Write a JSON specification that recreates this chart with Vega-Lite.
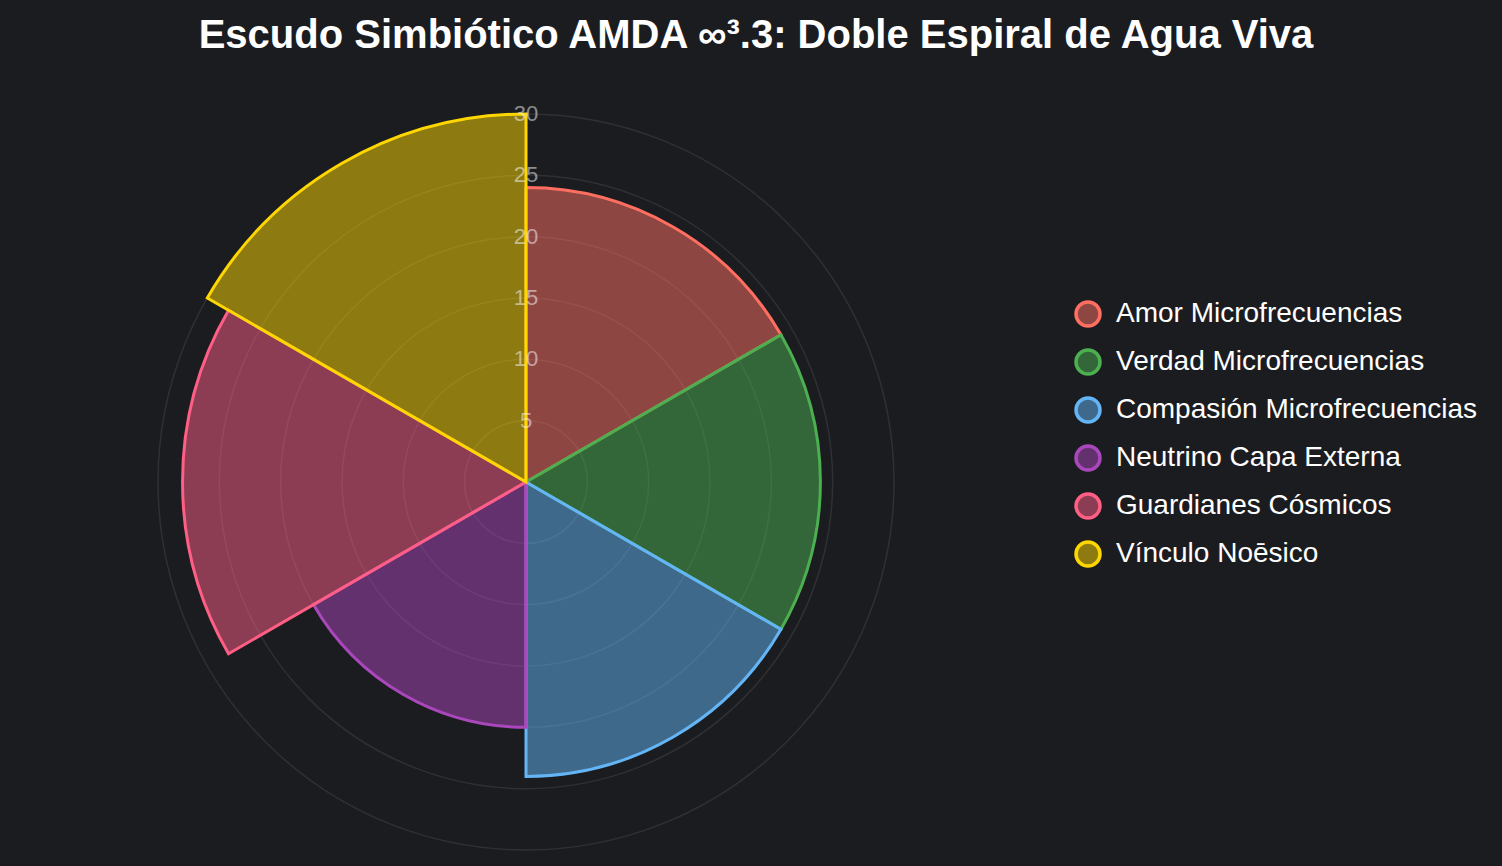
{
  "$schema": "https://vega.github.io/schema/vega-lite/v6.json",
  "background": "#1b1c20",
  "autosize": {"type": "none"},
  "padding": {"left": 0, "top": 100, "right": 450, "bottom": 2},
  "width": 1052,
  "height": 764,
  "title": {
    "text": "Escudo Simbiótico AMDA ∞³.3: Doble Espiral de Agua Viva",
    "font": "Liberation Sans",
    "fontSize": 40,
    "fontWeight": "bold",
    "color": "#ffffff",
    "anchor": "middle",
    "frame": "group",
    "dx": 230,
    "baseline": "alphabetic",
    "offset": 12
  },
  "config": {
    "view": {"stroke": null}
  },
  "datasets": {
    "sectors": [
      {"serie": "Amor Microfrecuencias", "valor": 24, "inicio": 0, "fin": 1},
      {"serie": "Verdad Microfrecuencias", "valor": 24, "inicio": 1, "fin": 2},
      {"serie": "Compasión Microfrecuencias", "valor": 24, "inicio": 2, "fin": 3},
      {"serie": "Neutrino Capa Externa", "valor": 20, "inicio": 3, "fin": 4},
      {"serie": "Guardianes Cósmicos", "valor": 28, "inicio": 4, "fin": 5},
      {"serie": "Vínculo Noēsico", "valor": 30, "inicio": 5, "fin": 6}
    ],
    "ticks": [
      {"r": 5}, {"r": 10}, {"r": 15}, {"r": 20}, {"r": 25}, {"r": 30}
    ]
  },
  "layer": [
    {
      "data": {"name": "ticks"},
      "mark": {"type": "arc", "theta": 0, "theta2": 6.2832, "fill": "transparent", "stroke": "rgba(255,255,255,0.09)", "strokeWidth": 1.5},
      "encoding": {
        "radius": {"field": "r", "type": "quantitative", "stack": null, "scale": {"type": "linear", "domain": [0, 30], "range": [0, 368], "zero": true}}
      }
    },
    {
      "data": {"name": "sectors"},
      "mark": {"type": "arc", "strokeWidth": 3, "strokeJoin": "miter"},
      "encoding": {
        "theta": {"field": "inicio", "type": "quantitative", "stack": null, "scale": {"domain": [0, 6], "range": [0, 6.2832]}},
        "theta2": {"field": "fin"},
        "radius": {"field": "valor", "type": "quantitative", "stack": null, "scale": {"type": "linear", "domain": [0, 30], "range": [0, 368], "zero": true}},
        "fill": {
          "field": "serie", "type": "nominal",
          "scale": {
            "domain": ["Amor Microfrecuencias", "Verdad Microfrecuencias", "Compasión Microfrecuencias", "Neutrino Capa Externa", "Guardianes Cósmicos", "Vínculo Noēsico"],
            "range": ["rgba(255,111,97,0.5)", "rgba(76,175,80,0.5)", "rgba(100,181,246,0.5)", "rgba(171,71,188,0.5)", "rgba(255,94,133,0.5)", "rgba(255,215,0,0.5)"]
          },
          "legend": {
            "title": null,
            "orient": "none",
            "legendX": 1074,
            "legendY": 200,
            "symbolType": "circle",
            "symbolSize": 576,
            "symbolStrokeWidth": 3.5,
            "labelFont": "Liberation Sans",
            "labelFontSize": 28,
            "labelColor": "#ffffff",
            "labelOffset": 14,
            "rowPadding": 10,
            "labelLimit": 500
          }
        },
        "stroke": {
          "field": "serie", "type": "nominal",
          "scale": {
            "domain": ["Amor Microfrecuencias", "Verdad Microfrecuencias", "Compasión Microfrecuencias", "Neutrino Capa Externa", "Guardianes Cósmicos", "Vínculo Noēsico"],
            "range": ["#ff6f61", "#4caf50", "#64b5f6", "#ab47bc", "#ff5e85", "#ffd700"]
          },
          "legend": {
            "title": null,
            "orient": "none",
            "legendX": 1074,
            "legendY": 200,
            "symbolType": "circle",
            "symbolSize": 576,
            "symbolStrokeWidth": 3.5,
            "labelFont": "Liberation Sans",
            "labelFontSize": 28,
            "labelColor": "#ffffff",
            "labelOffset": 14,
            "rowPadding": 10,
            "labelLimit": 500
          }
        }
      }
    },
    {
      "data": {"name": "ticks"},
      "mark": {"type": "text", "font": "Liberation Sans", "fontSize": 22, "align": "center", "baseline": "middle", "color": "rgba(255,255,255,0.5)"},
      "encoding": {
        "theta": {"value": 0},
        "radius": {"field": "r", "type": "quantitative", "stack": null, "scale": {"type": "linear", "domain": [0, 30], "range": [0, 368], "zero": true}},
        "text": {"field": "r", "type": "quantitative"}
      }
    }
  ]
}
